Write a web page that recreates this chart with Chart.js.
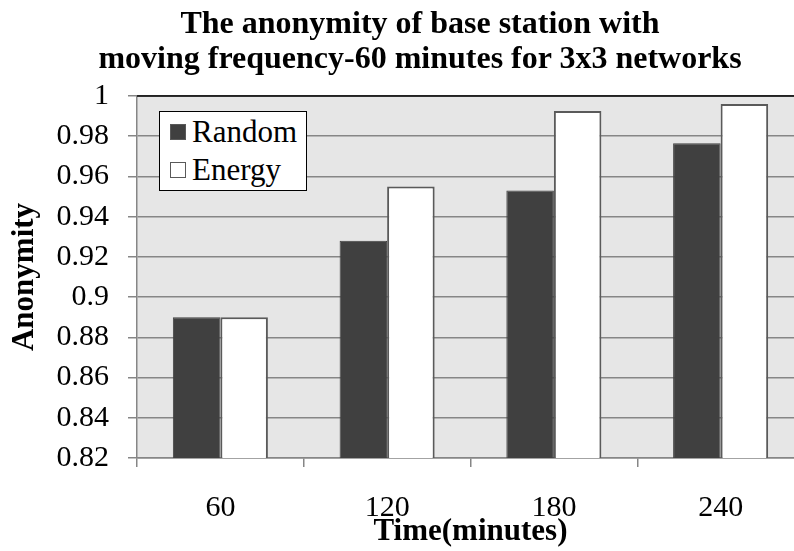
<!DOCTYPE html>
<html>
<head>
<meta charset="utf-8">
<script src="https://cdn.jsdelivr.net/npm/chart.js@4.4.0/dist/chart.umd.min.js"></script>
<style>
  html, body { margin: 0; padding: 0; background: #fff; overflow: hidden; }
  #wrap { position: relative; width: 794px; height: 551px; overflow: hidden; }
  #title {
    position: absolute; left: 420px; top: 5px;
    transform: translateX(-50%);
    font: bold 32px "Liberation Serif", "Times New Roman", serif;
    line-height: 35px; text-align: center; white-space: nowrap; color: #000;
  }
  #legend {
    position: absolute; background: #fff; border: 1.5px solid #000;
    padding: 1px 9px 1px 10px;
    font: 31px "Liberation Serif", "Times New Roman", serif; color: #000;
  }
  #legend .row { display: flex; align-items: center; height: 38px; }
  #legend .sw { width: 14px; height: 14px; margin-right: 6px; border: 1.5px solid #595959; }
</style>
</head>
<body>
<div id="wrap">
  <canvas id="chart" width="810" height="551"></canvas>
  <div id="title">The anonymity of base station with<br>moving frequency-60 minutes for 3x3 networks</div>
  <div id="legend"></div>
</div>
<script>
// values
const categories = ['60', '120', '180', '240'];
const randomValues = [0.890, 0.928, 0.953, 0.9765];
const energyValues = [0.890, 0.955, 0.9925, 0.996];
const yMin = 0.82;
const yMax = 1;
const yStep = 0.02;

const serif = '"Liberation Serif", "Times New Roman", serif';
const gridGray = '#868686';

// plot background + black top edge
const plotFrame = {
    id: 'plotFrame',
    beforeDraw(chart) {
        const { ctx, chartArea: a } = chart;
        ctx.save();
        ctx.fillStyle = '#e6e6e6';
        ctx.fillRect(a.left, a.top, a.right - a.left, a.bottom - a.top);
        ctx.restore();
    },
    afterDraw(chart) {
        const { ctx, chartArea: a } = chart;
        ctx.save();
        ctx.strokeStyle = '#000';
        ctx.lineWidth = 1.5;
        ctx.beginPath();
        ctx.moveTo(a.left, a.top);
        ctx.lineTo(a.right, a.top);
        ctx.stroke();
        ctx.restore();
    }
};

const chart = new Chart(document.getElementById('chart').getContext('2d'), {
    type: 'bar',
    data: {
        labels: categories,
        datasets: [
            {
                label: 'Random',
                data: randomValues,
                backgroundColor: '#404040',
                borderColor: '#404040',
                borderWidth: 1
            },
            {
                label: 'Energy',
                data: energyValues,
                backgroundColor: '#ffffff',
                borderColor: '#5a5a5a',
                borderWidth: 2
            }
        ]
    },
    options: {
        responsive: false,
        animation: false,
        layout: { padding: { top: 96, right: 6, left: 0, bottom: 0 } },
        datasets: { bar: { barPercentage: 1, categoryPercentage: 0.57 } },
        plugins: {
            legend: { display: false },
            title: { display: false },
            tooltip: { enabled: false }
        },
        scales: {
            x: {
                afterFit(scale) { scale.height = 93; },
                grid: {
                    drawOnChartArea: false,
                    drawTicks: true,
                    tickLength: 9,
                    color: gridGray,
                    lineWidth: 1.5
                },
                border: { color: gridGray, width: 1.5 },
                ticks: {
                    color: '#000',
                    padding: 23,
                    font: { family: serif, size: 30 }
                },
                title: {
                    display: true,
                    text: 'Time(minutes)',
                    color: '#000',
                    padding: { top: 0, bottom: 0 },
                    font: { family: serif, size: 31, weight: 'bold' }
                }
            },
            y: {
                min: yMin,
                max: yMax,
                afterFit(scale) { scale.width = 137; },
                grid: {
                    color: gridGray,
                    lineWidth: 1.5,
                    tickLength: 9
                },
                border: { color: gridGray, width: 1.5 },
                ticks: {
                    stepSize: yStep,
                    color: '#000',
                    padding: 19,
                    font: { family: serif, size: 30 },
                    callback: (v) => parseFloat(v.toFixed(2)).toString()
                },
                title: {
                    display: true,
                    text: 'Anonymity',
                    color: '#000',
                    padding: { top: 6, bottom: 0 },
                    font: { family: serif, size: 31, weight: 'bold' }
                }
            }
        }
    },
    plugins: [plotFrame]
});

// legend box inside the plot area, built from the datasets
const legend = document.getElementById('legend');
chart.data.datasets.forEach((ds) => {
    const row = document.createElement('div');
    row.className = 'row';
    const sw = document.createElement('span');
    sw.className = 'sw';
    sw.style.background = ds.backgroundColor;
    row.appendChild(sw);
    row.appendChild(document.createTextNode(ds.label));
    legend.appendChild(row);
});
legend.style.left = (chart.chartArea.left + 22) + 'px';
legend.style.top = (chart.chartArea.top + 15) + 'px';
</script>
</body>
</html>
